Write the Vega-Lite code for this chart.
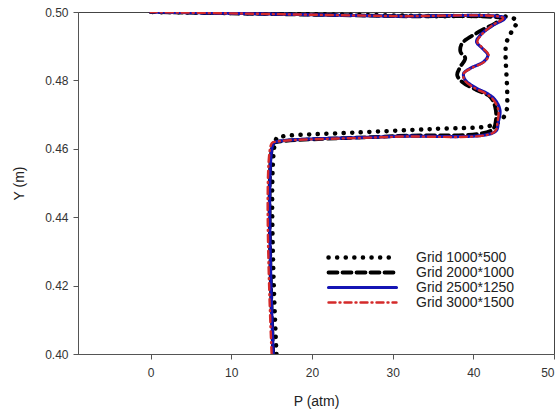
{
  "$schema": "https://vega.github.io/schema/vega-lite/v6.json",
  "width": 476,
  "height": 342,
  "autosize": "none",
  "padding": {"left": 78, "top": 12, "right": 6, "bottom": 60},
  "background": "white",
  "config": {
    "view": {"stroke": "#444", "strokeWidth": 1},
    "font": "Liberation Sans",
    "axis": {"grid": false, "domainColor": "#555", "tickColor": "#555", "tickSize": 5, "labelColor": "#333", "labelFontSize": 12, "titleFontSize": 14, "titleFontWeight": "normal", "titleColor": "#222", "labelFont": "Liberation Sans", "titleFont": "Liberation Sans"}
  },
  "data": {"values": [
    {"s": "Grid 1000*500", "i": 1, "p": 15.6, "y": 0.400},
    {"s": "Grid 1000*500", "i": 2, "p": 15.6, "y": 0.4630},
    {"s": "Grid 1000*500", "i": 3, "p": 16.3, "y": 0.4636},
    {"s": "Grid 1000*500", "i": 4, "p": 25, "y": 0.4647},
    {"s": "Grid 1000*500", "i": 5, "p": 35, "y": 0.4658},
    {"s": "Grid 1000*500", "i": 6, "p": 42.2, "y": 0.4668},
    {"s": "Grid 1000*500", "i": 7, "p": 43.5, "y": 0.4685},
    {"s": "Grid 1000*500", "i": 8, "p": 44.1, "y": 0.4710},
    {"s": "Grid 1000*500", "i": 9, "p": 44.2, "y": 0.4760},
    {"s": "Grid 1000*500", "i": 10, "p": 44.1, "y": 0.4820},
    {"s": "Grid 1000*500", "i": 11, "p": 44.0, "y": 0.4870},
    {"s": "Grid 1000*500", "i": 12, "p": 44.1, "y": 0.4910},
    {"s": "Grid 1000*500", "i": 13, "p": 44.8, "y": 0.4945},
    {"s": "Grid 1000*500", "i": 14, "p": 45.4, "y": 0.4972},
    {"s": "Grid 1000*500", "i": 15, "p": 44.8, "y": 0.4983},
    {"s": "Grid 1000*500", "i": 16, "p": 35, "y": 0.4988},
    {"s": "Grid 1000*500", "i": 17, "p": 20, "y": 0.4994},
    {"s": "Grid 1000*500", "i": 18, "p": 0, "y": 0.5000},

    {"s": "Grid 2000*1000", "i": 1, "p": 15.2, "y": 0.400},
    {"s": "Grid 2000*1000", "i": 2, "p": 15.2, "y": 0.4615},
    {"s": "Grid 2000*1000", "i": 3, "p": 15.7, "y": 0.4620},
    {"s": "Grid 2000*1000", "i": 4, "p": 30, "y": 0.4637},
    {"s": "Grid 2000*1000", "i": 5, "p": 42.3, "y": 0.4655},
    {"s": "Grid 2000*1000", "i": 6, "p": 42.8, "y": 0.4684},
    {"s": "Grid 2000*1000", "i": 7, "p": 42.7, "y": 0.4723},
    {"s": "Grid 2000*1000", "i": 8, "p": 42.1, "y": 0.4752},
    {"s": "Grid 2000*1000", "i": 9, "p": 40.4, "y": 0.4772},
    {"s": "Grid 2000*1000", "i": 10, "p": 38.6, "y": 0.4796},
    {"s": "Grid 2000*1000", "i": 11, "p": 38.0, "y": 0.4816},
    {"s": "Grid 2000*1000", "i": 12, "p": 38.4, "y": 0.4840},
    {"s": "Grid 2000*1000", "i": 13, "p": 39.0, "y": 0.4865},
    {"s": "Grid 2000*1000", "i": 14, "p": 38.4, "y": 0.4884},
    {"s": "Grid 2000*1000", "i": 15, "p": 38.6, "y": 0.4908},
    {"s": "Grid 2000*1000", "i": 16, "p": 40.4, "y": 0.4938},
    {"s": "Grid 2000*1000", "i": 17, "p": 42.7, "y": 0.4967},
    {"s": "Grid 2000*1000", "i": 18, "p": 43.6, "y": 0.4980},
    {"s": "Grid 2000*1000", "i": 19, "p": 30, "y": 0.4988},
    {"s": "Grid 2000*1000", "i": 20, "p": 15, "y": 0.4994},
    {"s": "Grid 2000*1000", "i": 21, "p": 0, "y": 0.5000},

    {"s": "Grid 2500*1250", "i": 1, "p": 15.2, "y": 0.400},
    {"s": "Grid 2500*1250", "i": 2, "p": 15.2, "y": 0.4615},
    {"s": "Grid 2500*1250", "i": 3, "p": 15.7, "y": 0.4621},
    {"s": "Grid 2500*1250", "i": 4, "p": 30, "y": 0.4636},
    {"s": "Grid 2500*1250", "i": 5, "p": 42.7, "y": 0.4650},
    {"s": "Grid 2500*1250", "i": 6, "p": 43.1, "y": 0.4679},
    {"s": "Grid 2500*1250", "i": 7, "p": 43.3, "y": 0.4713},
    {"s": "Grid 2500*1250", "i": 8, "p": 42.7, "y": 0.4743},
    {"s": "Grid 2500*1250", "i": 9, "p": 41.7, "y": 0.4762},
    {"s": "Grid 2500*1250", "i": 10, "p": 40.4, "y": 0.4777},
    {"s": "Grid 2500*1250", "i": 11, "p": 39.0, "y": 0.4801},
    {"s": "Grid 2500*1250", "i": 12, "p": 38.8, "y": 0.4820},
    {"s": "Grid 2500*1250", "i": 13, "p": 39.6, "y": 0.4835},
    {"s": "Grid 2500*1250", "i": 14, "p": 41.3, "y": 0.4855},
    {"s": "Grid 2500*1250", "i": 15, "p": 41.8, "y": 0.4874},
    {"s": "Grid 2500*1250", "i": 16, "p": 41.1, "y": 0.4894},
    {"s": "Grid 2500*1250", "i": 17, "p": 40.4, "y": 0.4913},
    {"s": "Grid 2500*1250", "i": 18, "p": 40.9, "y": 0.4933},
    {"s": "Grid 2500*1250", "i": 19, "p": 42.5, "y": 0.4962},
    {"s": "Grid 2500*1250", "i": 20, "p": 43.9, "y": 0.4982},
    {"s": "Grid 2500*1250", "i": 21, "p": 30, "y": 0.4988},
    {"s": "Grid 2500*1250", "i": 22, "p": 15, "y": 0.4994},
    {"s": "Grid 2500*1250", "i": 23, "p": 0, "y": 0.5000},

    {"s": "Grid 3000*1500", "i": 1, "p": 15.0, "y": 0.400},
    {"s": "Grid 3000*1500", "i": 2, "p": 15.0, "y": 0.4616},
    {"s": "Grid 3000*1500", "i": 3, "p": 15.6, "y": 0.4621},
    {"s": "Grid 3000*1500", "i": 4, "p": 30, "y": 0.4635},
    {"s": "Grid 3000*1500", "i": 5, "p": 42.6, "y": 0.4649},
    {"s": "Grid 3000*1500", "i": 6, "p": 43.0, "y": 0.4679},
    {"s": "Grid 3000*1500", "i": 7, "p": 43.1, "y": 0.4713},
    {"s": "Grid 3000*1500", "i": 8, "p": 42.5, "y": 0.4743},
    {"s": "Grid 3000*1500", "i": 9, "p": 41.5, "y": 0.4762},
    {"s": "Grid 3000*1500", "i": 10, "p": 40.2, "y": 0.4777},
    {"s": "Grid 3000*1500", "i": 11, "p": 38.9, "y": 0.4801},
    {"s": "Grid 3000*1500", "i": 12, "p": 38.8, "y": 0.4820},
    {"s": "Grid 3000*1500", "i": 13, "p": 39.7, "y": 0.4835},
    {"s": "Grid 3000*1500", "i": 14, "p": 41.4, "y": 0.4855},
    {"s": "Grid 3000*1500", "i": 15, "p": 41.9, "y": 0.4874},
    {"s": "Grid 3000*1500", "i": 16, "p": 41.2, "y": 0.4894},
    {"s": "Grid 3000*1500", "i": 17, "p": 40.5, "y": 0.4913},
    {"s": "Grid 3000*1500", "i": 18, "p": 41.0, "y": 0.4933},
    {"s": "Grid 3000*1500", "i": 19, "p": 42.4, "y": 0.4962},
    {"s": "Grid 3000*1500", "i": 20, "p": 43.7, "y": 0.4982},
    {"s": "Grid 3000*1500", "i": 21, "p": 30, "y": 0.4988},
    {"s": "Grid 3000*1500", "i": 22, "p": 15, "y": 0.4994},
    {"s": "Grid 3000*1500", "i": 23, "p": 0, "y": 0.5000}
  ]},
  "mark": {"type": "line", "strokeCap": "round", "strokeJoin": "round", "clip": true, "interpolate": "catmull-rom"},
  "encoding": {
    "x": {"field": "p", "type": "quantitative", "scale": {"domain": [-9, 50], "nice": false, "zero": false},
      "axis": {"title": "P (atm)", "values": [0, 10, 20, 30, 40, 50], "labelPadding": 8, "titlePadding": 16}},
    "y": {"field": "y", "type": "quantitative", "scale": {"domain": [0.40, 0.50], "nice": false, "zero": false},
      "axis": {"title": "Y (m)", "values": [0.40, 0.42, 0.44, 0.46, 0.48, 0.50], "format": ".2f", "labelPadding": 5, "titlePadding": 18}},
    "order": {"field": "i", "type": "quantitative"},
    "color": {"field": "s", "type": "nominal",
      "scale": {"domain": ["Grid 1000*500", "Grid 2000*1000", "Grid 2500*1250", "Grid 3000*1500"], "range": ["#000000", "#000000", "#1414b4", "#d42a2a"]},
      "legend": {"title": null, "orient": "none", "legendX": 248, "legendY": 238, "padding": 0, "symbolType": "stroke", "symbolSize": 4624, "clipHeight": 15, "rowPadding": 0, "labelOffset": 17, "labelFontSize": 14, "labelColor": "#222", "labelFont": "Liberation Sans",
        "encode": {"symbols": {"update": {"strokeCap": {"value": "round"}}}}}},
    "strokeDash": {"field": "s", "type": "nominal",
      "scale": {"domain": ["Grid 1000*500", "Grid 2000*1000", "Grid 2500*1250", "Grid 3000*1500"], "range": [[0.1, 8.5], [9, 5], [1, 0], [7, 4, 1, 4]]}},
    "strokeWidth": {"field": "s", "type": "nominal",
      "scale": {"domain": ["Grid 1000*500", "Grid 2000*1000", "Grid 2500*1250", "Grid 3000*1500"], "range": [4.5, 2.4, 2.6, 1.8]}}
  }
}
